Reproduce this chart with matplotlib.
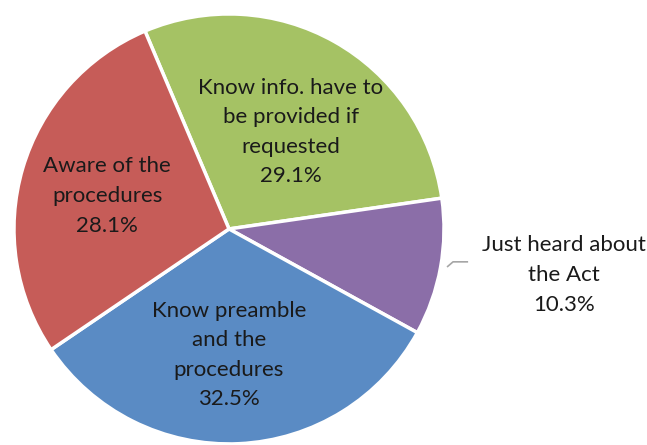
import matplotlib
matplotlib.use("Agg")
import matplotlib.pyplot as plt

# Awareness of the Act, share of respondents (%)
categories = [
    "Know info. have to\nbe provided if\nrequested",
    "Just heard about\nthe Act",
    "Know preamble\nand the\nprocedures",
    "Aware of the\nprocedures",
]
shares = [29.1, 10.3, 32.5, 28.1]
colors = ["#A5C264", "#8B6EA8", "#5A8BC4", "#C65C58"]

fig = plt.figure(figsize=(6.47, 4.45), dpi=100)
ax = fig.add_axes([0, 0, 1, 1])
ax.axis("off")

wedges, _ = ax.pie(
    shares,
    colors=colors,
    startangle=113,
    counterclock=False,
    radius=1.0,
    center=(0, 0),
    wedgeprops=dict(edgecolor="white", linewidth=2.5),
)
ax.set_xlim(-1.065, 1.944)
ax.set_ylim(-1.005, 1.065)
ax.set_aspect("auto")

label_pos = [(0.288, 0.451), (1.558, -0.214), (0.0, -0.586), (-0.567, 0.153)]
font = dict(family=["Lato", "DejaVu Sans"], fontsize=16, color="#1a1a1a")
for name, val, (x, y) in zip(categories, shares, label_pos):
    ax.text(x, y, f"{name}\n{val:.1f}%", ha="center", va="center",
            linespacing=1.6, **font)

# leader line for the small slice label
ax.plot([1.014, 1.042, 1.112], [-0.177, -0.153, -0.153],
        color="#A6A6A6", linewidth=1.2, solid_capstyle="butt")

fig.savefig("out.png", dpi=100, facecolor="white")
